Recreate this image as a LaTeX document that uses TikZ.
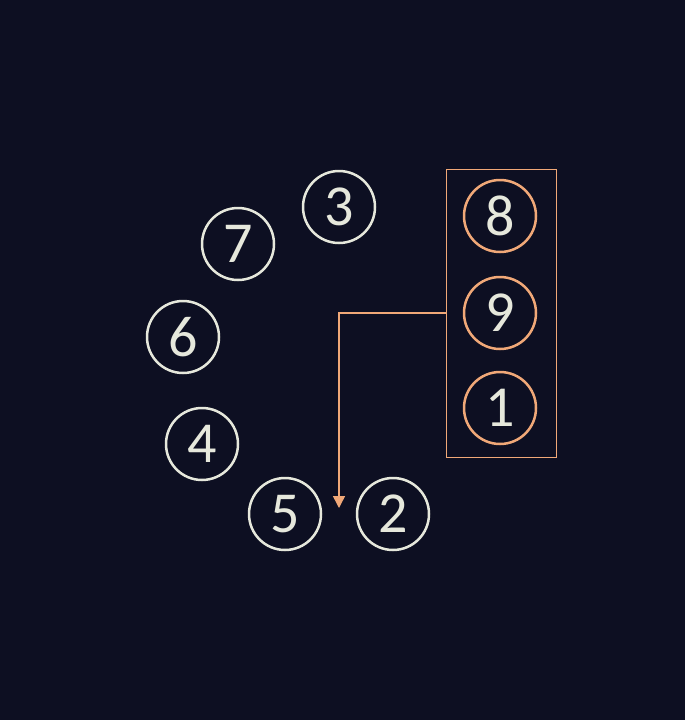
\documentclass[tikz,border=0pt]{standalone}
\usepackage{fontspec}
\setmainfont{Carlito}
\usetikzlibrary{arrows.meta}
\definecolor{bg}{HTML}{0D0F22}
\definecolor{fg}{HTML}{E6E8DC}
\definecolor{org}{HTML}{F0A878}
\tikzset{
  num/.style={circle, draw=fg, line width=2.5pt, minimum size=72pt, inner sep=0pt, text=fg, font=\fontsize{58}{58}\selectfont},
  onum/.style={num, draw=org},
}
\begin{document}
\begin{tikzpicture}[x=1pt,y=-1pt]
\fill[bg] (0,0) rectangle (685,720);
\useasboundingbox (0,0) rectangle (685,720);
\node[num] (n3) at (339,207) {3};
\node[num] (n7) at (238,244) {7};
\node[num] (n6) at (183,337) {6};
\node[num] (n4) at (202,444) {4};
\node[num] (n5) at (285,514) {5};
\node[num] (n2) at (393,514) {2};
\node[onum] (n8) at (500,216) {8};
\node[onum] (n9) at (500,313) {9};
\node[onum] (n1) at (500,408) {1};
\node[draw=org, line width=1pt, minimum width=110pt, minimum height=288pt, inner sep=0pt] (box) at (501,313) {};
\coordinate (tip) at (339,508);
\draw[org, line width=1.5pt, -{Triangle[length=12pt,width=12pt]}] (box.west) -| (tip);
\end{tikzpicture}
\end{document}
